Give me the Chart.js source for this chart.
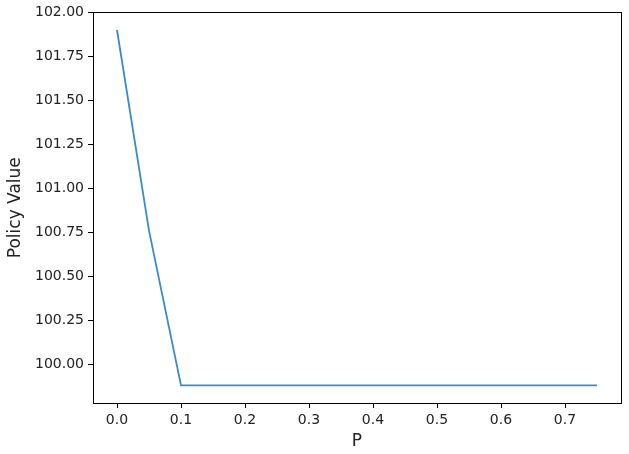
<!DOCTYPE html>
<html>
	<head>
		<title>Policy Value</title>
		<meta charset="UTF-8">
		<script src="https://cdn.jsdelivr.net/npm/chart.js@4/dist/chart.umd.min.js"></script>
		<style>
			html, body { margin: 0; padding: 0; background: #fff; }
			#wrap { width: 629px; height: 454px; }
		</style>
	</head>
	<body>
		<div id="wrap"><canvas id="chart" width="629" height="454"></canvas></div>

		<script>
			// data
			let pValues = [0, 0.05, 0.1, 0.15, 0.2, 0.25, 0.3, 0.35, 0.4, 0.45, 0.5, 0.55, 0.6, 0.65, 0.7, 0.75]
			let policyValues = [101.9, 100.76, 99.88, 99.88, 99.88, 99.88, 99.88, 99.88, 99.88, 99.88, 99.88, 99.88, 99.88, 99.88, 99.88, 99.88]
			let xTicks = [0, 0.1, 0.2, 0.3, 0.4, 0.5, 0.6, 0.7]
			let yTicks = [100, 100.25, 100.5, 100.75, 101, 101.25, 101.5, 101.75, 102]

			let points = []
			for (let i = 0; i < pValues.length; i++) {
				points.push({x: pValues[i], y: policyValues[i]})
			}

			const frame = {
				id: "frame",
				afterDraw(chart) {
					const a = chart.chartArea
					const c = chart.ctx
					c.save()
					c.strokeStyle = "#000"
					c.lineWidth = 1
					c.strokeRect(Math.round(a.left) + 0.5, Math.round(a.top) + 0.5, Math.round(a.right - a.left), Math.round(a.bottom - a.top))
					c.restore()
				}
			}

			Chart.defaults.font.family = "'DejaVu Sans', sans-serif"
			Chart.defaults.color = "#222"

			let ctx = document.getElementById("chart").getContext("2d")
			let myChart = new Chart(ctx, {
				type: "line",
				data: {
					datasets: [{
						data: points,
						borderColor: "rgb(58, 138, 204)",
						borderWidth: 1.8,
						pointRadius: 0,
						tension: 0,
						fill: false
					}]
				},
				options: {
					responsive: false,
					animation: false,
					layout: { padding: { top: 10, right: 8, left: 0, bottom: 0 } },
					plugins: { legend: { display: false }, tooltip: { enabled: false } },
					scales: {
						x: {
							type: "linear",
							min: -0.0375,
							max: 0.7875,
							afterBuildTicks: (s) => { s.ticks = xTicks.map(v => ({value: v})) },
							afterFit: (s) => { s.height = 51 },
							ticks: {
								font: { size: 14 },
								color: "#222",
								padding: 4,
								callback: (v) => v.toFixed(1)
							},
							grid: { drawOnChartArea: false, drawTicks: true, tickLength: 5, color: "#000" },
							border: { display: true, color: "#000" },
							title: { display: true, text: "P", font: { size: 17 }, color: "#222", padding: { top: 0, bottom: 2 } }
						},
						y: {
							min: 99.78,
							max: 102.0,
							afterBuildTicks: (s) => { s.ticks = yTicks.map(v => ({value: v})) },
							afterFit: (s) => { s.width = 93 },
							ticks: {
								font: { size: 14 },
								color: "#222",
								padding: 4,
								callback: (v) => v.toFixed(2)
							},
							grid: { drawOnChartArea: false, drawTicks: true, tickLength: 5, color: "#000" },
							border: { display: true, color: "#000" },
							title: { display: true, text: "Policy Value", font: { size: 17 }, color: "#222", padding: { top: 5, bottom: 0 } }
						}
					}
				},
				plugins: [frame]
			})
		</script>
	</body>
</html>
